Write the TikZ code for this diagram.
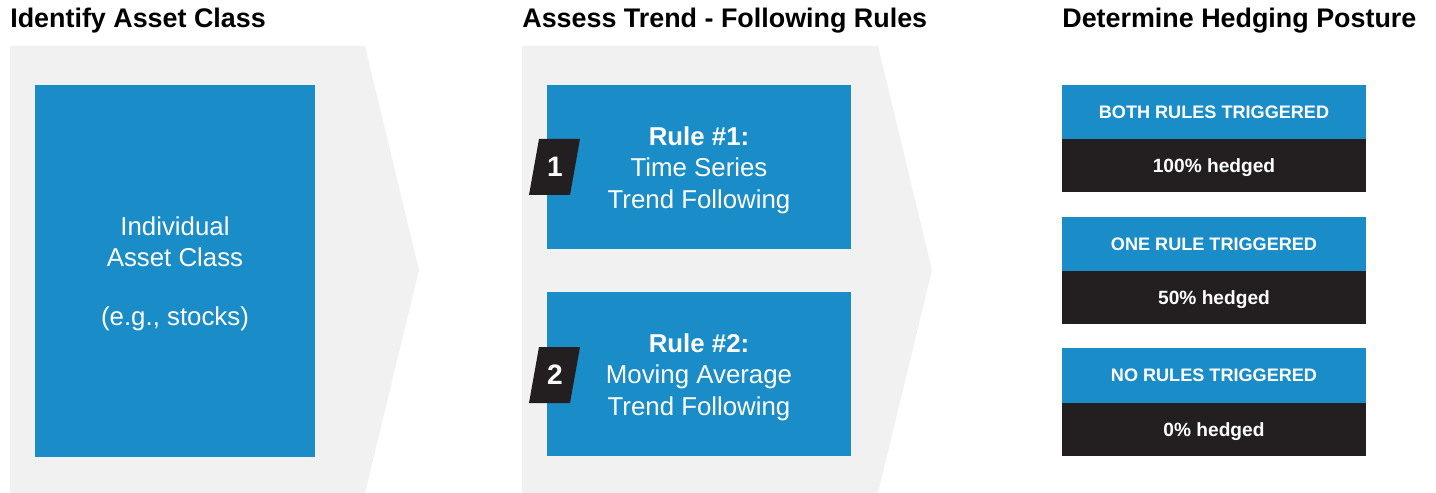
\documentclass[tikz,border=0pt]{standalone}
\usepackage{fontspec}
\setmainfont{Liberation Sans}
\definecolor{stepblue}{HTML}{1A8CC8}
\definecolor{stepdark}{HTML}{231F20}
\definecolor{stepgray}{HTML}{F1F1F1}
\tikzset{
  heading/.style={anchor=base west,inner sep=0pt,font=\bfseries\fontsize{15.3}{18}\selectfont},
  boxtext/.style={text=white,align=center,inner sep=0pt,font=\fontsize{14.7}{17.9}\selectfont},
  badge/.style={text=white,inner sep=0pt,font=\bfseries\fontsize{16}{18}\selectfont},
  tagtext/.style={text=white,inner sep=0pt,font=\bfseries\fontsize{10.3}{12}\selectfont},
  hedgetext/.style={text=white,inner sep=0pt,font=\bfseries\fontsize{10.9}{12}\selectfont}
}
\begin{document}
\begin{tikzpicture}[x=0.02cm,y=-0.02cm]
\useasboundingbox (0,0) rectangle (1436,493);
% chevrons
\fill[stepgray] (10,46) -- (365,46) -- (419,270) -- (365,493) -- (10,493) -- cycle;
\fill[stepgray] (522,46) -- (878,46) -- (932,270) -- (878,493) -- (522,493) -- cycle;
% headings
\node[heading] (idhead) at (10,28) {Identify Asset Class};
\node[heading] (trendhead) at (522,28) {Assess Trend - Following Rules};
\node[heading] (posturehead) at (1062,28) {Determine Hedging Posture};
% asset class
\fill[stepblue] (35,85) rectangle (315,457);
\node[boxtext] (asset) at (175,242) {Individual\\Asset Class};
\node[boxtext] (example) at (175,319) {(e.g., stocks)};
% rules
\fill[stepblue] (547,85) rectangle (851,249);
\fill[stepblue] (547,292) rectangle (851,456);
\node[boxtext] (ruleone) at (699,170) {\textbf{Rule \#1:}\\Time Series\\Trend Following};
\node[boxtext] (ruletwo) at (699,377) {\textbf{Rule \#2:}\\Moving Average\\Trend Following};
\fill[stepdark] (539,139) -- (580,139) -- (570,195) -- (529,195) -- cycle;
\fill[stepdark] (539,347) -- (580,347) -- (570,403) -- (529,403) -- cycle;
\node[badge] (badgeone) at (555,167) {1};
\node[badge] (badgetwo) at (555,375) {2};
% hedging posture
\fill[stepblue] (1062,85) rectangle (1366,139);
\fill[stepdark] (1062,139) rectangle (1366,192);
\fill[stepblue] (1062,217) rectangle (1366,271);
\fill[stepdark] (1062,271) rectangle (1366,324);
\fill[stepblue] (1062,348) rectangle (1366,403);
\fill[stepdark] (1062,403) rectangle (1366,456);
\node[tagtext] (bothrules) at (1214,112) {BOTH RULES TRIGGERED};
\node[hedgetext] (bothhedge) at (1214,168) {100\% hedged};
\node[tagtext] (onerule) at (1214,244) {ONE RULE TRIGGERED};
\node[hedgetext] (onehedge) at (1214,300) {50\% hedged};
\node[tagtext] (norules) at (1214,375) {NO RULES TRIGGERED};
\node[hedgetext] (nohedge) at (1214,432) {0\% hedged};
\end{tikzpicture}
\end{document}
